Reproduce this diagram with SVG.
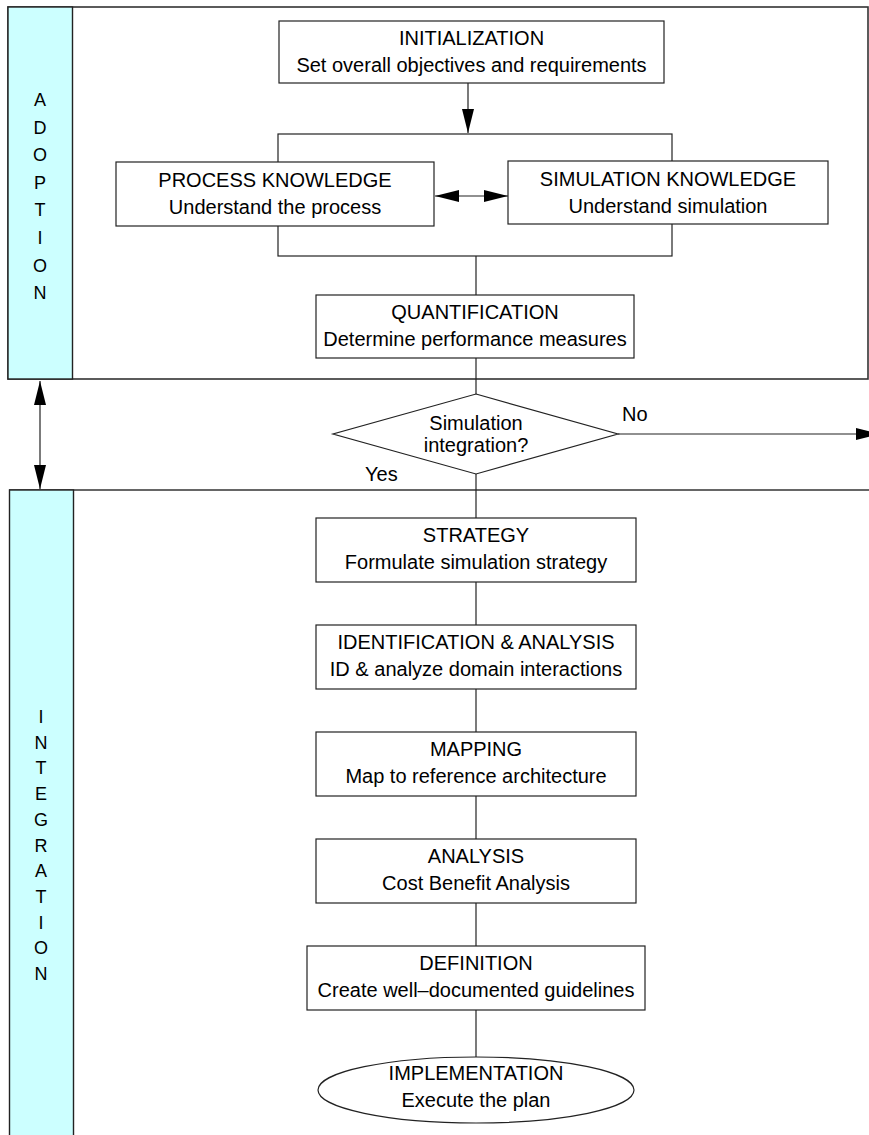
<svg xmlns="http://www.w3.org/2000/svg" width="869" height="1135" viewBox="0 0 869 1135">
  <style>
    text { font-family: "Liberation Sans", Arial, sans-serif; font-size: 20px; fill: #000; text-anchor: middle; }
    .lane { font-size: 18px; }
    .lbl { text-anchor: start; }
    .box { fill: #fff; stroke: #222; stroke-width: 1.2; }
    .strip { fill: #ccffff; stroke: #222; stroke-width: 1.4; }
    .frame { fill: none; stroke: #333; stroke-width: 1.6; }
    .wire { fill: none; stroke: #222; stroke-width: 1.2; }
  </style>
  <defs>
    <marker id="arrowEnd" viewBox="0 0 24 12" refX="24" refY="6" markerWidth="24" markerHeight="12" markerUnits="userSpaceOnUse" orient="auto">
      <path d="M0,0 L24,6 L0,12 Z" fill="#000"/>
    </marker>
    <marker id="arrowStart" viewBox="0 0 24 12" refX="0" refY="6" markerWidth="24" markerHeight="12" markerUnits="userSpaceOnUse" orient="auto">
      <path d="M24,0 L0,6 L24,12 Z" fill="#000"/>
    </marker>
  </defs>

  <!-- swimlanes -->
  <g id="lane-adoption">
    <rect class="frame" x="8" y="7" width="860" height="372"/>
    <rect class="strip" x="8" y="7" width="64.5" height="372"/>
    <text class="lane" x="40" y="106">A</text>
    <text class="lane" x="40" y="133.6">D</text>
    <text class="lane" x="40" y="161.2">O</text>
    <text class="lane" x="40" y="188.8">P</text>
    <text class="lane" x="40" y="216.4">T</text>
    <text class="lane" x="40" y="244">I</text>
    <text class="lane" x="40" y="271.6">O</text>
    <text class="lane" x="40" y="299.2">N</text>
  </g>
  <g id="lane-integration">
    <line class="frame" x1="9" y1="490" x2="869" y2="490"/>
    <rect class="strip" x="9.5" y="490" width="64" height="660"/>
    <text class="lane" x="41" y="723">I</text>
    <text class="lane" x="41" y="748.7">N</text>
    <text class="lane" x="41" y="774.4">T</text>
    <text class="lane" x="41" y="800.1">E</text>
    <text class="lane" x="41" y="825.8">G</text>
    <text class="lane" x="41" y="851.5">R</text>
    <text class="lane" x="41" y="877.2">A</text>
    <text class="lane" x="41" y="902.9">T</text>
    <text class="lane" x="41" y="928.6">I</text>
    <text class="lane" x="41" y="954.3">O</text>
    <text class="lane" x="41" y="980">N</text>
  </g>

  <!-- connectors -->
  <g id="connectors">
    <rect class="wire" x="278" y="134" width="394" height="122"/>
    <line class="wire" x1="468" y1="83" x2="468" y2="133" marker-end="url(#arrowEnd)"/>
    <line class="wire" x1="435" y1="196" x2="508" y2="196" marker-start="url(#arrowStart)" marker-end="url(#arrowEnd)"/>
    <line class="wire" x1="476" y1="256" x2="476" y2="295"/>
    <line class="wire" x1="476" y1="358" x2="476" y2="394"/>
    <line class="wire" x1="618" y1="434" x2="880" y2="434" marker-end="url(#arrowEnd)"/>
    <line class="wire" x1="476" y1="474" x2="476" y2="518"/>
    <line class="wire" x1="476" y1="582" x2="476" y2="625"/>
    <line class="wire" x1="476" y1="689" x2="476" y2="732"/>
    <line class="wire" x1="476" y1="796" x2="476" y2="839"/>
    <line class="wire" x1="476" y1="903" x2="476" y2="946"/>
    <line class="wire" x1="476" y1="1010" x2="476" y2="1057"/>
    <line class="wire" x1="40" y1="381" x2="40" y2="489" marker-start="url(#arrowStart)" marker-end="url(#arrowEnd)"/>
    <text class="lbl" x="622" y="421">No</text>
    <text class="lbl" x="365" y="481">Yes</text>
  </g>

  <!-- nodes -->
  <g id="node-initialization">
    <rect class="box" x="279" y="21" width="385" height="62"/>
    <text x="471.5" y="45">INITIALIZATION</text>
    <text x="471.5" y="72">Set overall objectives and requirements</text>
  </g>
  <g id="node-process-knowledge">
    <rect class="box" x="116" y="162" width="318" height="64"/>
    <text x="275" y="187">PROCESS KNOWLEDGE</text>
    <text x="275" y="214">Understand the process</text>
  </g>
  <g id="node-simulation-knowledge">
    <rect class="box" x="508" y="161" width="320" height="63"/>
    <text x="668" y="186">SIMULATION KNOWLEDGE</text>
    <text x="668" y="213">Understand simulation</text>
  </g>
  <g id="node-quantification">
    <rect class="box" x="316" y="295" width="318" height="63"/>
    <text x="475" y="319">QUANTIFICATION</text>
    <text x="475" y="346">Determine performance measures</text>
  </g>
  <g id="node-decision">
    <polygon class="box" points="476,394 618,434 476,474 333,434"/>
    <text x="476" y="430">Simulation</text>
    <text x="476" y="452">integration?</text>
  </g>
  <g id="node-strategy">
    <rect class="box" x="316" y="518" width="320" height="64"/>
    <text x="476" y="542">STRATEGY</text>
    <text x="476" y="569">Formulate simulation strategy</text>
  </g>
  <g id="node-identification">
    <rect class="box" x="316" y="625" width="320" height="64"/>
    <text x="476" y="649">IDENTIFICATION &amp; ANALYSIS</text>
    <text x="476" y="676">ID &amp; analyze domain interactions</text>
  </g>
  <g id="node-mapping">
    <rect class="box" x="316" y="732" width="320" height="64"/>
    <text x="476" y="756">MAPPING</text>
    <text x="476" y="783">Map to reference architecture</text>
  </g>
  <g id="node-analysis">
    <rect class="box" x="316" y="839" width="320" height="64"/>
    <text x="476" y="863">ANALYSIS</text>
    <text x="476" y="890">Cost Benefit Analysis</text>
  </g>
  <g id="node-definition">
    <rect class="box" x="307" y="946" width="338" height="64"/>
    <text x="476" y="970">DEFINITION</text>
    <text x="476" y="997">Create well–documented guidelines</text>
  </g>
  <g id="node-implementation">
    <ellipse class="box" cx="476" cy="1090" rx="158" ry="33"/>
    <text x="476" y="1080">IMPLEMENTATION</text>
    <text x="476" y="1107">Execute the plan</text>
  </g>
</svg>
